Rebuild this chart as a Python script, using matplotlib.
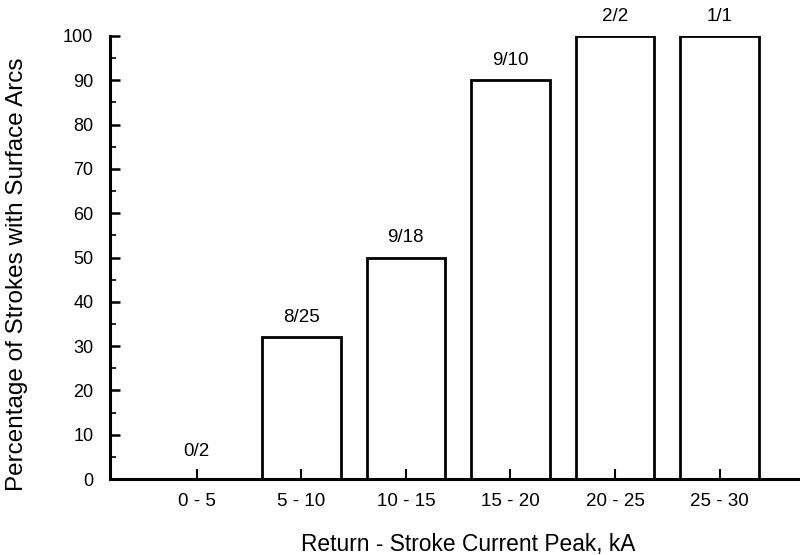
import matplotlib
matplotlib.use("Agg")
import matplotlib.pyplot as plt
from matplotlib.ticker import MultipleLocator

categories = ["0 - 5", "5 - 10", "10 - 15", "15 - 20", "20 - 25", "25 - 30"]
percentages = [0, 32, 50, 90, 100, 100]
ratios = ["0/2", "8/25", "9/18", "9/10", "2/2", "1/1"]

plt.rcParams['font.family'] = ['Liberation Sans', 'DejaVu Sans']

fig = plt.figure(figsize=(8, 5.55), dpi=100)
ax = fig.add_axes([110/800, 1-479/555, 1-110/800, (479-36)/555])

x = list(range(len(categories)))
ax.bar(x, percentages, width=0.75, facecolor='white', edgecolor='black', linewidth=2)
for xi, p, r in zip(x, percentages, ratios):
    off = 14 if p == 0 else 8
    ax.annotate(r, (xi, p), xytext=(0, off), textcoords='offset points',
                ha='center', va='bottom', fontsize=13.5)

ax.set_xlim(-0.83, 5.77)
ax.set_ylim(0, 100)
ax.set_xticks(x)
ax.set_xticklabels(categories, fontsize=13.5)
ax.yaxis.set_major_locator(MultipleLocator(10))
ax.yaxis.set_minor_locator(MultipleLocator(5))
ax.tick_params(axis='y', which='major', direction='in', length=7, width=1.8, labelsize=13, pad=12)
ax.tick_params(axis='y', which='minor', direction='in', length=4, width=1.2)
ax.tick_params(axis='x', which='major', direction='in', length=7, width=1.5, pad=10)
for s in ['top', 'right']:
    ax.spines[s].set_visible(False)
for s in ['left', 'bottom']:
    ax.spines[s].set_linewidth(2.2)
ax.spines['left'].set_bounds(0, 100)

fig.text(17/800, 1-274/555, "Percentage of Strokes with Surface Arcs", rotation=90,
         ha='center', va='center', fontsize=17.5)
fig.text(468/800, 1-545/555, "Return - Stroke Current Peak, kA", ha='center', va='center', fontsize=16.4)

fig.savefig("out.png", dpi=100)
